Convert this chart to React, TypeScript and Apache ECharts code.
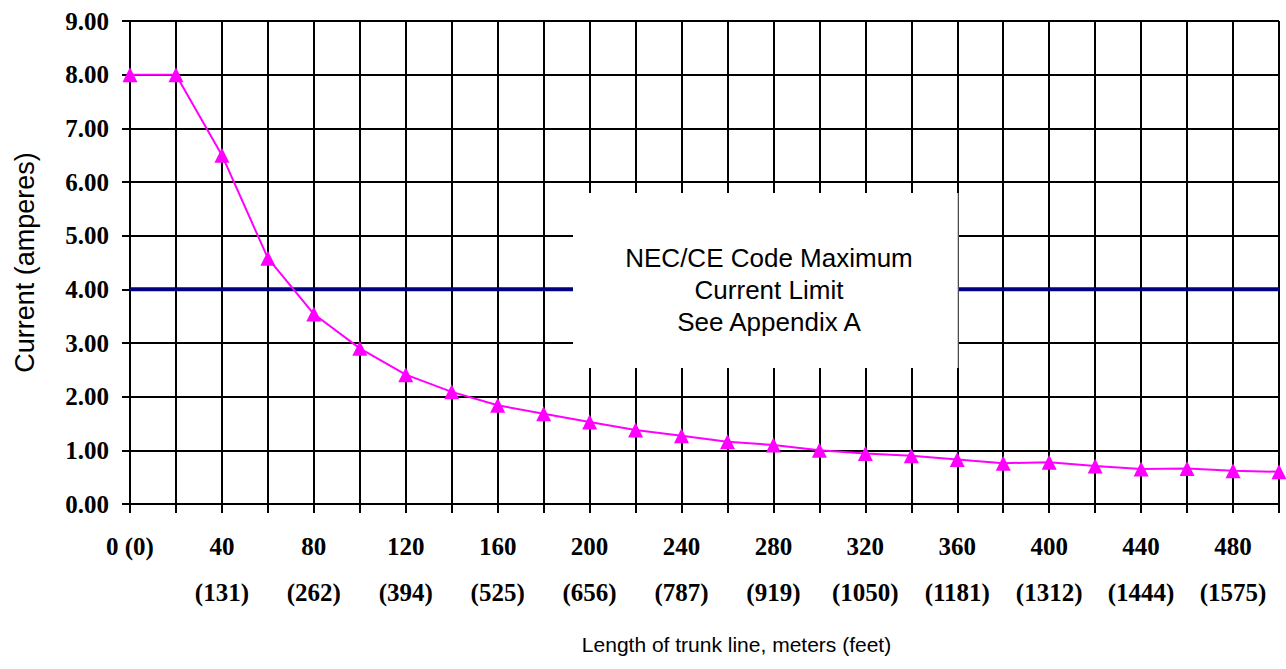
import React, { useEffect, useRef } from "react";
import * as echarts from "echarts";

// Length of trunk line in meters (x values of the measured points)
const lengthMeters = [0, 20, 40, 60, 80, 100, 120, 140, 160, 180, 200, 220, 240, 260, 280, 300, 320, 340, 360, 380, 400, 420, 440, 460, 480, 500];
// Maximum current (amperes) at each length
const currentAmps = [8.0, 8.0, 6.5, 4.58, 3.54, 2.9, 2.41, 2.09, 1.84, 1.68, 1.53, 1.38, 1.27, 1.16, 1.1, 1.0, 0.94, 0.9, 0.83, 0.76, 0.78, 0.71, 0.65, 0.66, 0.62, 0.6];
// NEC/CE code maximum current limit (amperes)
const codeLimitAmps = 4;
// Labeled x ticks: meters and their feet equivalents
const tickMeters = [0, 40, 80, 120, 160, 200, 240, 280, 320, 360, 400, 440, 480];
const tickFeet = [0, 131, 262, 394, 525, 656, 787, 919, 1050, 1181, 1312, 1444, 1575];
const boxLines = ["NEC/CE Code Maximum", "Current Limit", "See Appendix A"];

const tickFont = "'Liberation Serif', 'Times New Roman', serif";
const textFont = "'Liberation Sans', Arial, sans-serif";

export default function App() {
  const ref = useRef<HTMLDivElement>(null);
  useEffect(() => {
    if (!ref.current) return;
    const chart = echarts.init(ref.current, null, { renderer: "svg" });
    const gridColor = "#000000";
    chart.setOption({
      animation: false,
      backgroundColor: "#ffffff",
      grid: { left: 130, right: 7, top: 21, bottom: 165, containLabel: false },
      xAxis: {
        type: "value",
        min: 0,
        max: 500,
        interval: 20,
        name: "Length of trunk line, meters (feet)",
        nameLocation: "middle",
        nameGap: 130,
        nameTextStyle: { fontFamily: textFont, fontSize: 21, color: "#000", padding: [0, 0, 0, 64] },
        axisLine: { show: true, onZero: false, lineStyle: { color: gridColor, width: 2 } },
        axisTick: { show: true, length: 9, lineStyle: { color: gridColor, width: 2 } },
        splitLine: { show: true, lineStyle: { color: gridColor, width: 2 } },
        axisLabel: {
          margin: 19,
          fontFamily: tickFont,
          fontWeight: "bold",
          fontSize: 25,
          color: "#000",
          lineHeight: 46,
          showMaxLabel: true,
          formatter: (v: number) => {
            const i = tickMeters.indexOf(v);
            if (i < 0) return "";
            if (v === 0) return `${tickMeters[i]} (${tickFeet[i]})`;
            return `${tickMeters[i]}\n(${tickFeet[i]})`;
          },
        },
      },
      yAxis: {
        type: "value",
        min: 0,
        max: 9,
        interval: 1,
        name: "Current (amperes)",
        nameLocation: "middle",
        nameGap: 92,
        nameTextStyle: { fontFamily: textFont, fontSize: 27, color: "#000" },
        axisLine: { show: true, lineStyle: { color: gridColor, width: 2 } },
        axisTick: { show: true, length: 8, lineStyle: { color: gridColor, width: 2 } },
        splitLine: { show: true, lineStyle: { color: gridColor, width: 2 } },
        axisLabel: {
          margin: 21,
          fontFamily: tickFont,
          fontWeight: "bold",
          fontSize: 25,
          color: "#000",
          formatter: (v: number) => v.toFixed(2),
        },
      },
      series: [
        {
          name: "Code limit",
          type: "line",
          data: [
            [lengthMeters[0], codeLimitAmps],
            [lengthMeters[lengthMeters.length - 1], codeLimitAmps],
          ],
          showSymbol: false,
          symbol: "none",
          lineStyle: { color: "#000080", width: 4 },
          z: 2,
        },
        {
          name: "Current",
          type: "line",
          data: lengthMeters.map((m, i) => [m, currentAmps[i]]),
          symbol: "triangle",
          symbolSize: 15,
          itemStyle: { color: "#ff00ff" },
          lineStyle: { color: "#ff00ff", width: 2 },
          z: 5,
        },
      ],
      graphic: [
        {
          type: "rect",
          shape: { x: 573, y: 193, width: 385, height: 175 },
          style: { fill: "#ffffff" },
          z: 3,
        },
        {
          type: "line",
          shape: { x1: 958, y1: 193, x2: 958, y2: 368 },
          style: { stroke: "#9a9a9a", lineWidth: 1 },
          z: 3,
        },
        {
          type: "text",
          x: 769,
          y: 290,
          style: {
            text: boxLines.join("\n"),
            fontFamily: textFont,
            fontSize: 26,
            lineHeight: 32,
            fill: "#000",
            align: "center",
            verticalAlign: "middle",
          },
          z: 4,
        },
      ],
    });
    return () => chart.dispose();
  }, []);
  return (
    <div
      ref={ref}
      style={{ position: "fixed", left: 0, top: 0, width: 1286, height: 669, background: "#fff" }}
    />
  );
}
